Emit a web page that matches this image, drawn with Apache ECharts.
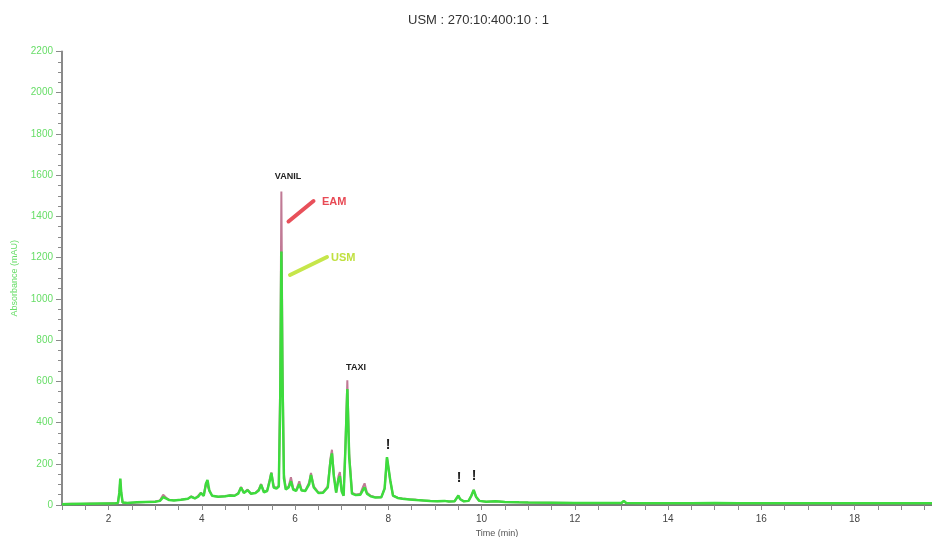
<!DOCTYPE html>
<html>
<head>
<meta charset="utf-8">
<script src="https://cdn.jsdelivr.net/npm/echarts@6/dist/echarts.min.js"></script>
<style>html,body{margin:0;padding:0;background:#fff}#c{width:932px;height:537px}</style>
</head>
<body>
<div id="c"></div>
<script>
// Retention times (min)
var times = [1.00,1.20,1.40,1.60,1.80,2.00,2.15,2.20,2.23,2.25,2.27,2.30,2.40,2.60,2.80,3.00,3.10,3.17,3.20,3.25,3.30,3.40,3.55,3.70,3.77,3.85,3.92,3.98,4.04,4.09,4.12,4.16,4.22,4.35,4.50,4.60,4.70,4.78,4.84,4.90,4.98,5.05,5.15,5.22,5.27,5.33,5.40,5.46,5.49,5.54,5.60,5.65,5.68,5.705,5.73,5.76,5.80,5.86,5.91,5.96,6.02,6.09,6.14,6.22,6.30,6.34,6.40,6.50,6.60,6.70,6.76,6.79,6.83,6.88,6.93,6.96,7.00,7.04,7.08,7.12,7.16,7.22,7.30,7.40,7.46,7.49,7.54,7.62,7.72,7.85,7.92,7.97,8.00,8.04,8.10,8.20,8.30,8.45,8.60,8.75,8.90,9.05,9.20,9.30,9.42,9.47,9.50,9.54,9.62,9.72,9.78,9.83,9.88,9.95,10.10,10.30,10.50,10.80,11.00,11.50,12.00,12.50,13.00,13.05,13.10,13.50,14.00,14.50,15.00,15.50,16.00,16.50,17.00,17.50,18.00,18.50,19.00,19.66];
// EAM absorbance (mAU)
var eamValues = [5,6,5,7,6,8,8,10,60,125,60,12,10,12,15,17,22,50,52,32,25,23,26,30,42,32,45,60,45,110,118,70,45,40,42,48,45,58,88,60,75,55,60,75,102,65,70,130,158,90,82,95,600,1521,700,150,80,90,135,80,70,115,72,70,110,155,90,60,62,90,230,268,150,60,140,160,70,45,300,605,250,60,50,55,90,105,60,45,38,38,80,230,235,120,45,35,32,28,25,22,20,18,20,17,18,35,45,28,18,20,45,72,40,20,16,18,15,13,12,11,10,10,10,20,10,9,9,9,10,9,8,8,8,8,8,8,8,8];
// USM absorbance (mAU)
var usmValues = [4,5,6,6,7,7,8,10,60,128,62,12,10,13,15,16,20,38,42,30,24,22,25,30,40,32,40,58,45,105,122,70,45,40,42,46,45,55,85,58,72,55,58,70,98,62,68,120,155,85,80,90,500,1230,600,130,75,85,115,75,68,100,70,68,100,145,85,58,60,85,215,250,140,60,125,140,65,45,280,562,230,55,48,50,75,85,55,42,36,38,80,232,238,120,45,34,30,27,24,22,19,18,20,17,18,35,46,28,18,20,45,73,40,20,16,18,15,13,12,11,10,10,10,20,10,9,9,9,10,9,8,8,8,8,8,8,8,8];
var seriesNames = ['EAM','USM'];
var yTicks = {min:0, max:2200, interval:200};
var xRange = {min:1, max:19.66, interval:0.5};

function zip(t, v){ var out=[]; for (var i=0;i<t.length;i++) out.push([t[i], v[i]]); return out; }

var chart = echarts.init(document.getElementById('c'), null, {renderer:'canvas'});
var option = {
  animation:false,
  backgroundColor:'#fff',
  title:{ text:'USM : 270:10:400:10 : 1', left:403, top:9,
    textStyle:{ fontFamily:'Liberation Sans, Arial', fontSize:13, fontWeight:'normal', color:'#333' } },
  grid:{ left:62, top:51.5, right:0, bottom:32, containLabel:false, outerBoundsMode:'none' },
  xAxis:[{
    type:'value', min:xRange.min, max:xRange.max, interval:xRange.interval,
    name:'Time (min)', nameLocation:'middle', nameGap:23,
    nameTextStyle:{ fontFamily:'Liberation Sans, Arial', fontSize:9, color:'#555' },
    axisLine:{ show:true, onZero:false, lineStyle:{ color:'#8a8a8a', width:2 } },
    axisTick:{ show:true, length:5, lineStyle:{ color:'#8a8a8a', width:1 } },
    axisLabel:{ fontFamily:'Liberation Sans, Arial', fontSize:10, color:'#444', margin:9,
      formatter:function(v){ return (Math.abs(v%2)<1e-9) ? String(v) : ''; } },
    splitLine:{ show:false }
  },{
    type:'value', position:'top', min:xRange.min, max:xRange.max,
    axisLine:{ show:true, lineStyle:{ color:'#7a7a7a', width:2 } },
    axisTick:{ show:false }, axisLabel:{ show:false }, splitLine:{ show:false }
  }],
  yAxis:{
    type:'value', min:yTicks.min, max:yTicks.max, interval:yTicks.interval,
    name:'Absorbance (mAU)', nameLocation:'middle', nameGap:43,
    nameTextStyle:{ fontFamily:'Liberation Sans, Arial', fontSize:9, color:'#66dd66' },
    axisLine:{ show:true, lineStyle:{ color:'#8a8a8a', width:2 } },
    axisTick:{ show:true, length:6, lineStyle:{ color:'#8a8a8a', width:1 } },
    minorTick:{ show:true, splitNumber:4, length:4, lineStyle:{ color:'#8a8a8a', width:1 } },
    axisLabel:{ fontFamily:'Liberation Sans, Arial', fontSize:10, color:'#66dd66', margin:9,
      formatter:function(v){ return String(v); } },
    splitLine:{ show:false }
  },
  series:[
    { name:seriesNames[0], type:'line', data:zip(times, eamValues), showSymbol:false, symbol:'none',
      lineStyle:{ color:'#c07a95', width:2 }, z:2 },
    { name:seriesNames[1], type:'line', data:zip(times, usmValues), showSymbol:false, symbol:'none',
      lineStyle:{ color:'#3ddc3d', width:2.5 }, z:3 }
  ],
  graphic:[
    { type:'text', x:288, y:177, style:{ text:'VANIL', align:'center', verticalAlign:'middle', font:'bold 9px Liberation Sans, Arial', fill:'#222' } },
    { type:'text', x:356, y:368, style:{ text:'TAXI', align:'center', verticalAlign:'middle', font:'bold 9px Liberation Sans, Arial', fill:'#222' } },
    { type:'text', x:388, y:445, style:{ text:'!', align:'center', verticalAlign:'middle', font:'bold 14px Liberation Sans, Arial', fill:'#222' } },
    { type:'text', x:459, y:478, style:{ text:'!', align:'center', verticalAlign:'middle', font:'bold 14px Liberation Sans, Arial', fill:'#222' } },
    { type:'text', x:474, y:476, style:{ text:'!', align:'center', verticalAlign:'middle', font:'bold 14px Liberation Sans, Arial', fill:'#222' } },
    { type:'line', shape:{ x1:288.5, y1:221.5, x2:313.5, y2:201 }, style:{ stroke:'#e8505a', lineWidth:4, lineCap:'round' } },
    { type:'text', x:322, y:202, style:{ text:'EAM', align:'left', verticalAlign:'middle', font:'bold 11px Liberation Sans, Arial', fill:'#e84a55' } },
    { type:'line', shape:{ x1:290, y1:275, x2:327, y2:257 }, style:{ stroke:'#c6e64a', lineWidth:4, lineCap:'round' } },
    { type:'text', x:331, y:258, style:{ text:'USM', align:'left', verticalAlign:'middle', font:'bold 11px Liberation Sans, Arial', fill:'#c0e040' } }
  ]
};
chart.setOption(option);
</script>
</body>
</html>
